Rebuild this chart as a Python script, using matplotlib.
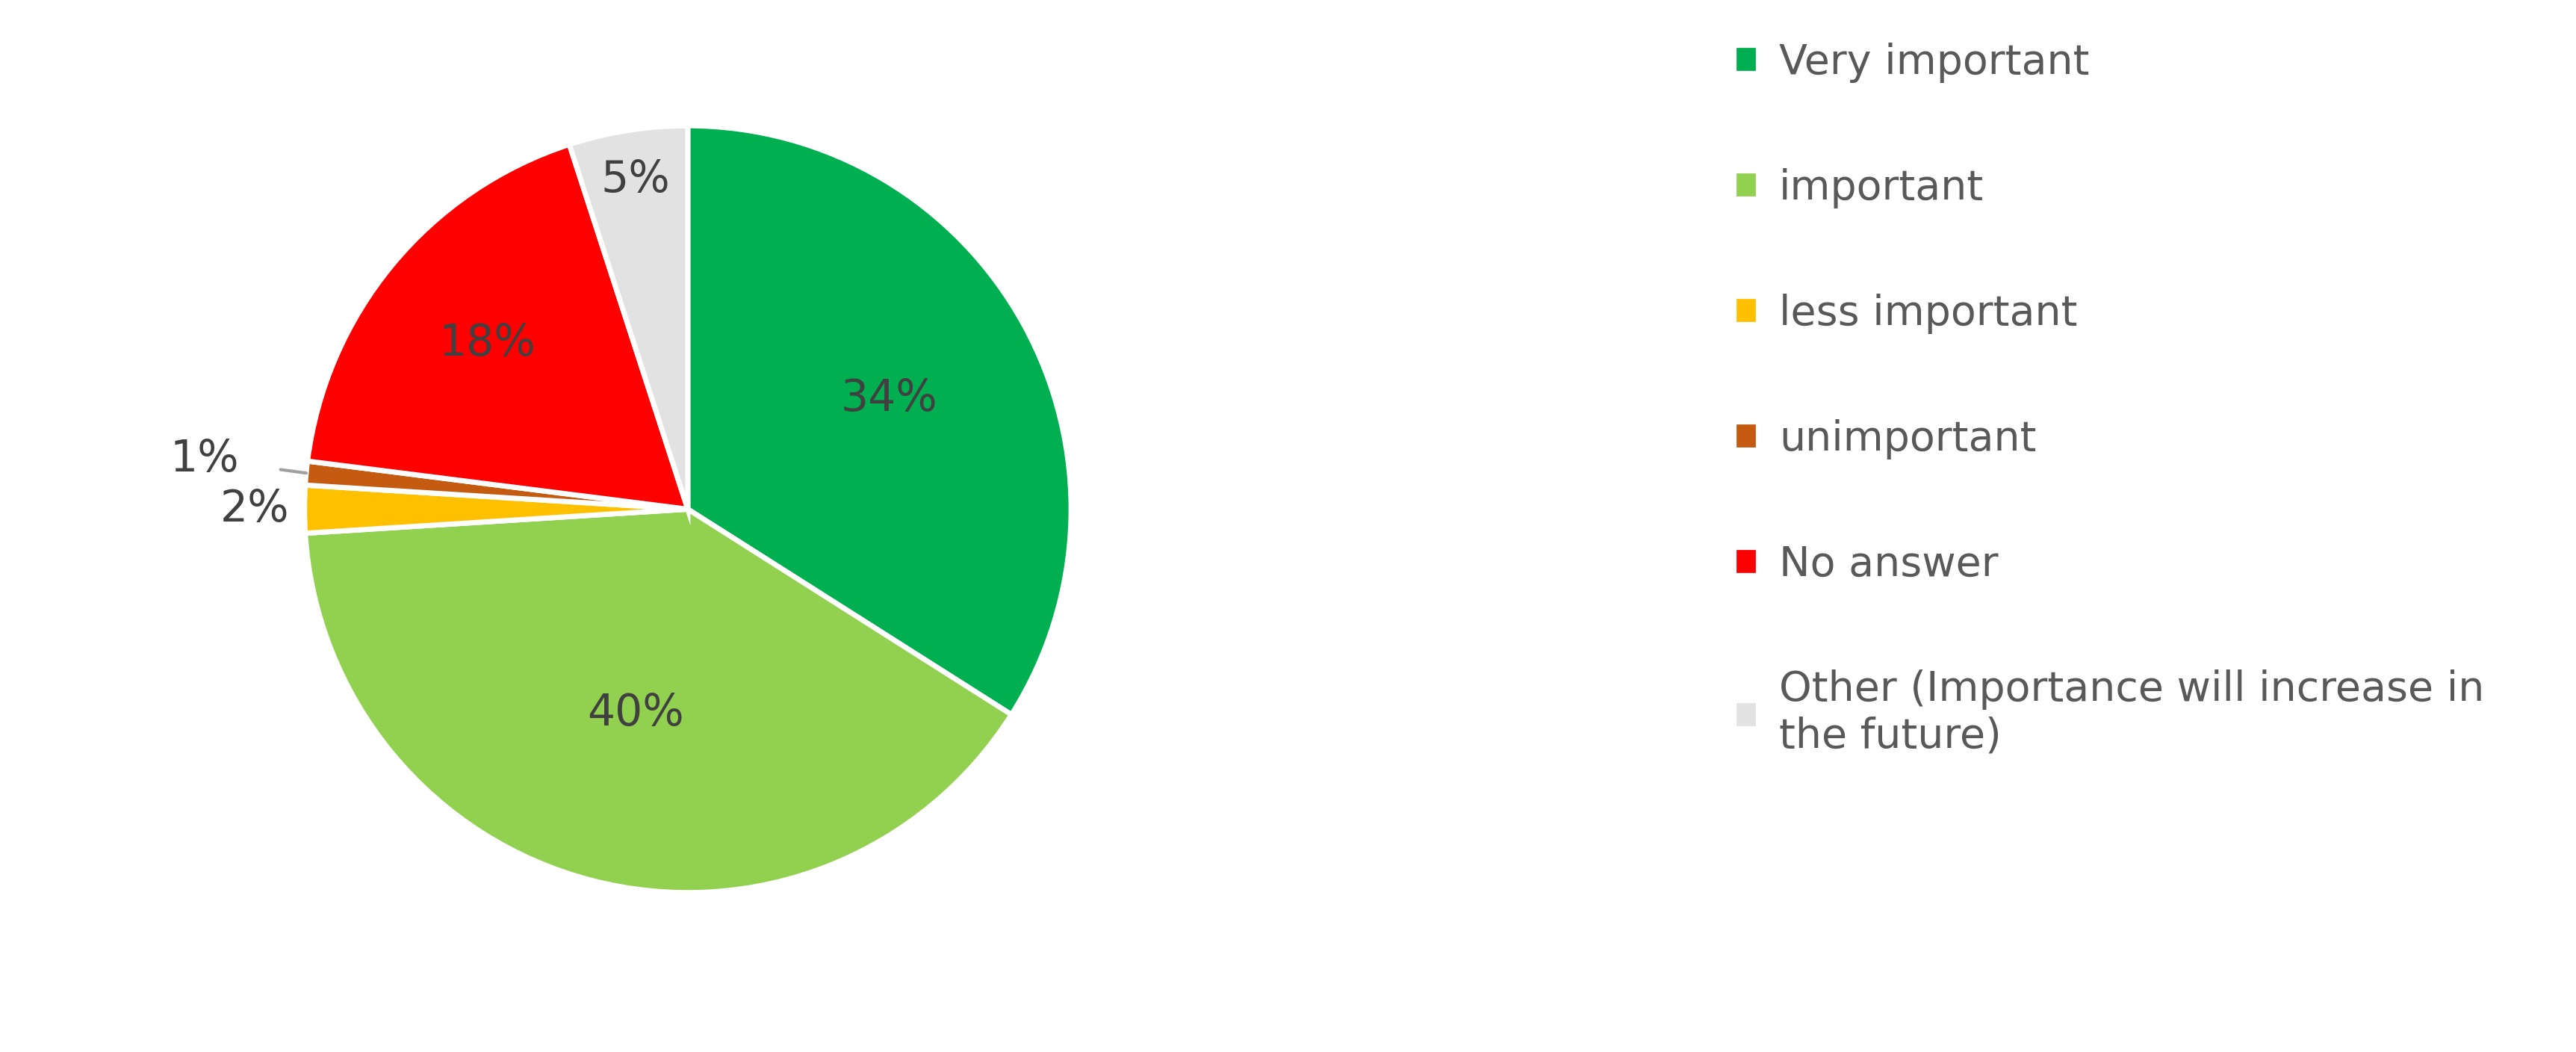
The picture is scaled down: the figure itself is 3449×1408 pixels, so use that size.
import matplotlib
matplotlib.use("Agg")
import matplotlib.pyplot as plt
import numpy as np

labels = ["Very important", "important", "less important", "unimportant", "No answer",
          "Other (Importance will increase in\nthe future)"]
values = [34, 40, 2, 1, 18, 5]
colors = ["#00B050", "#92D050", "#FFC000", "#C55A11", "#FF0000", "#E2E2E2"]
dists = [0.6, 0.55, 1.13, 1.2, 0.68, 0.87]

fig = plt.figure(figsize=(17.245, 7.04), dpi=200)
ax = fig.add_axes([0.081, 0.06, 0.372, 0.912])
wedges, _ = ax.pie(values, colors=colors, startangle=90, counterclock=False,
                   wedgeprops=dict(edgecolor="white", linewidth=2.5))
ax.set_aspect("equal")
for i, w in enumerate(wedges):
    ang = np.deg2rad((w.theta1 + w.theta2) / 2)
    x, y = np.cos(ang), np.sin(ang)
    d = dists[i]
    if i == 3:
        ax.annotate(f"{values[i]}%", xy=(x * 1.0, y * 1.0), xytext=(-1.26, 0.13),
                    ha="center", va="center", fontsize=21, color="#404040",
                    arrowprops=dict(arrowstyle="-", color="#A0A0A0", lw=1.5,
                                    shrinkA=18, shrinkB=0))
    else:
        ax.text(x * d, y * d, f"{values[i]}%", ha="center", va="center",
                fontsize=21, color="#404040")

handles = [plt.Rectangle((0, 0), 1, 1, color=c) for c in colors]
fig.legend(handles, labels, loc="upper left", bbox_to_anchor=(0.66, 0.995),
           frameon=False, fontsize=20, labelcolor="#595959",
           handlelength=0.4, handleheight=0.4, handletextpad=0.6, labelspacing=2.05)
fig.savefig("out.png", dpi=200, facecolor="white")
